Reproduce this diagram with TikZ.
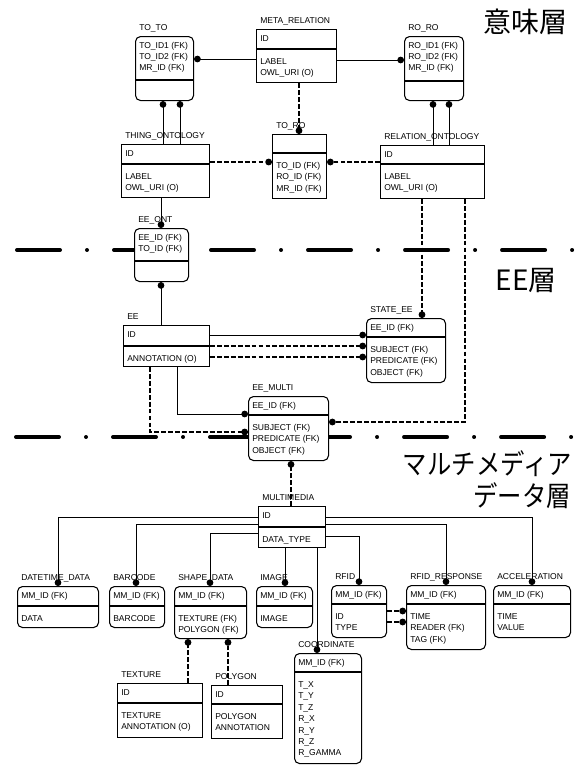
\documentclass[tikz,border=0pt]{standalone}
\usepackage{fontspec}
\setmainfont{Liberation Sans}
\newfontfamily\cjk{Noto Sans CJK JP}
\usepackage{graphicx}
\usetikzlibrary{arrows.meta}
\tikzset{
 boxline/.style={line width=0.8pt},
 rtbl/.style={draw, line width=0.8pt, fill=white, rounded corners=3.75pt, inner sep=0pt},
 stbl/.style={draw, line width=0.8pt, fill=white, inner sep=0pt},
 lbl/.style={inner sep=0pt, font=\fontsize{6.4}{8}\selectfont},
 sc/.style={line width=0.75pt, -{Circle[length=5pt,width=5pt]}},
 dc/.style={line width=1.5pt, dash pattern=on 3.6pt off 1.6pt, -{Circle[length=5pt,width=5pt]}},
 sepline/.style={line width=3pt, line cap=round, dash pattern=on 32.25pt off 20.25pt on 0.01pt off 20.25pt},
 layer/.style={inner sep=0pt, font=\cjk\fontsize{21}{25}\selectfont},
 entshape/.style={rtbl},
}
% #1 name, #2 x1, #3 y1, #4 x2, #5 y2, #6 ydiv, #7 title, #8 keys, #9 attrs
\newcommand\ent[9]{%
  \node[entshape, anchor=north west, minimum width={(#4-#2)*0.75pt}, minimum height={(#5-#3)*0.75pt}] (#1) at (#2,#3) {};
  \draw[boxline] (#1.west |- 0,#6) -- (#1.east |- 0,#6);
  \node[lbl, anchor=base west] (#1-title) at (#2+4,#3-6) {#7};
  \foreach \s [count=\i] in {#8} {\node[lbl, anchor=base west] (#1-k\i) at (#2+4,#3+12+\i*11.4-11.4) {\s};}
  \foreach \s [count=\i] in {#9} {\node[lbl, anchor=base west] (#1-a\i) at (#2+4,#6+15.5+\i*11.4-11.4) {\s};}
}
\begin{document}
\begin{tikzpicture}[x=0.75pt,y=-0.75pt]
\fill[white] (0,0) rectangle (579,765);
\useasboundingbox (0,0) rectangle (579,765);

% layer separators
\draw[sepline] (17,250) -- (578,250);
\draw[sepline] (16,437) -- (578,437);

% semantic layer
\tikzset{entshape/.style={rtbl}}
\ent{toto}{135}{36}{193}{100}{80}{TO\_TO}{TO\_ID1 (FK),TO\_ID2 (FK),MR\_ID (FK)}{}
\ent{roro}{404}{36}{463}{100}{81}{RO\_RO}{RO\_ID1 (FK),RO\_ID2 (FK),MR\_ID (FK)}{}
\tikzset{entshape/.style={stbl}}
\ent{meta}{256}{29}{336}{82}{49}{META\_RELATION}{ID}{LABEL,OWL\_URI (O)}
\ent{thing}{121}{144}{209}{197}{164}{THING\_ONTOLOGY}{ID}{LABEL,OWL\_URI (O)}
\ent{toro}{272}{134}{326}{198}{153}{TO\_RO}{}{TO\_ID (FK),RO\_ID (FK),MR\_ID (FK)}
\ent{relont}{380}{145}{484}{198}{164}{RELATION\_ONTOLOGY}{ID}{LABEL,OWL\_URI (O)}

% EE layer
\tikzset{entshape/.style={rtbl}}
\ent{eeont}{134}{228}{188}{281}{261}{EE\_ONT}{EE\_ID (FK),TO\_ID (FK)}{}
\ent{stateee}{366}{318}{445}{382}{337}{STATE\_EE}{EE\_ID (FK)}{SUBJECT (FK),PREDICATE (FK),OBJECT (FK)}
\ent{eemulti}{248}{396}{328}{460}{415}{EE\_MULTI}{EE\_ID (FK)}{SUBJECT (FK),PREDICATE (FK),OBJECT (FK)}
\tikzset{entshape/.style={stbl}}
\ent{ee}{123}{325}{209}{366}{346}{EE}{ID}{ANNOTATION (O)}

% multimedia layer
\ent{mm}{258}{506}{325}{547}{527}{MULTIMEDIA}{ID}{DATA\_TYPE}
\tikzset{entshape/.style={rtbl}}
\ent{dt}{17}{586}{98}{627}{606}{DATETIME\_DATA}{MM\_ID (FK)}{DATA}
\ent{bc}{109}{586}{164}{627}{606}{BARCODE}{MM\_ID (FK)}{BARCODE}
\ent{sd}{174}{586}{246}{638}{606}{SHAPE\_DATA}{MM\_ID (FK)}{TEXTURE (FK),POLYGON (FK)}
\ent{img}{256}{586}{312}{627}{606}{IMAGE}{MM\_ID (FK)}{IMAGE}
\ent{rfid}{331}{585}{386}{637}{604}{RFID}{MM\_ID (FK)}{ID,TYPE}
\ent{rr}{406}{585}{485}{649}{604}{RFID\_RESPONSE}{MM\_ID (FK)}{TIME,READER (FK),TAG (FK)}
\ent{acc}{493}{585}{570}{637}{604}{ACCELERATION}{MM\_ID (FK)}{TIME,VALUE}
\ent{coord}{294}{653}{361}{763}{672}{COORDINATE}{MM\_ID (FK)}{T\_X,T\_Y,T\_Z,R\_X,R\_Y,R\_Z,R\_GAMMA}
\tikzset{entshape/.style={stbl}}
\ent{tex}{117}{683}{202}{737}{703}{TEXTURE}{ID}{TEXTURE,ANNOTATION (O)}
\ent{poly}{211}{685}{282}{738}{704}{POLYGON}{ID}{POLYGON,ANNOTATION}

% connectors: semantic layer
\draw[sc] (meta.west |- 0,59) -- (toto.east |- 0,59);
\draw[sc] (meta.east |- 0,60) -- (roro.west |- 0,60);
\draw[sc] (thing.north -| 163,0) -- (toto.south -| 163,0);
\draw[sc] (thing.north -| 180,0) -- (toto.south -| 180,0);
\draw[sc] (relont.north -| 433,0) -- (roro.south -| 433,0);
\draw[sc] (relont.north -| 449,0) -- (roro.south -| 449,0);
\draw[dc] (meta.south -| 299,0) -- (toro.north -| 299,0);
\draw[dc] (thing.east |- 0,162) -- (toro.west |- 0,162);
\draw[dc] (relont.west |- 0,162) -- (toro.east |- 0,162);

% EE layer connectors
\draw[sc] (thing.south -| 161,0) -- (eeont.north -| 161,0);
\draw[sc] (ee.north -| 161,0) -- (eeont.south -| 161,0);
\draw[sc] (ee.east |- 0,335) -- (stateee.west |- 0,335);
\draw[dc] (ee.east |- 0,346) -- (stateee.west |- 0,346);
\draw[dc] (ee.east |- 0,357) -- (stateee.west |- 0,357);
\draw[dc] (relont.south -| 422,0) -- (stateee.north -| 422,0);
\draw[sc] (ee.south -| 177,0) |- (eemulti.west |- 0,414);
\draw[dc] (ee.south -| 150,0) |- (eemulti.west |- 0,432);
\draw[dc] (relont.south -| 465,0) |- (eemulti.east |- 0,422);
\draw[dc] (mm.north -| 291,0) -- (eemulti.south -| 291,0);

% multimedia connectors
\draw[sc] (mm.west |- 0,517) -| (dt.north -| 58,0);
\draw[sc] (mm.west |- 0,524) -| (bc.north -| 136,0);
\draw[sc] (mm.west |- 0,533) -| (sd.north -| 210,0);
\draw[sc] (mm.south -| 285,0) -- (img.north -| 285,0);
\draw[sc] (mm.east |- 0,536) -| (rfid.north -| 359,0);
\draw[sc] (mm.east |- 0,524) -| (rr.north -| 446,0);
\draw[sc] (mm.east |- 0,517) -| (acc.north -| 532,0);
\draw[sc] (mm.south -| 317,0) -- (coord.north -| 317,0);
\draw[dc] (tex.north -| 188,0) -- (sd.south -| 188,0);
\draw[dc] (poly.north -| 228,0) -- (sd.south -| 228,0);
\draw[dc] (rfid.east |- 0,611) -- (rr.west |- 0,611);
\draw[dc] (rfid.east |- 0,622) -- (rr.west |- 0,622);

% layer labels
\node[layer, anchor=east] (lay1) at (568,22) {意味層};
\node[layer, anchor=east] (lay2) at (557,281) {EE層};
\node[layer, anchor=east] (lay3) at (572,464) {\scalebox{0.87}[1]{マルチメディア}};
\node[layer, anchor=east] (lay4) at (571,496) {\scalebox{0.87}[1]{データ層}};
\end{tikzpicture}
\end{document}
